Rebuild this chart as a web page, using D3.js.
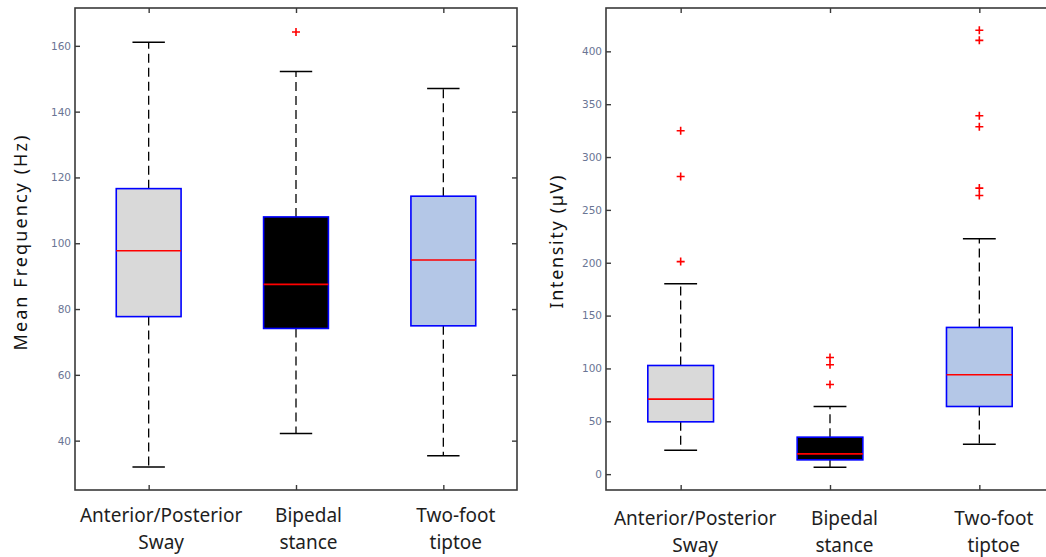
<!DOCTYPE html>
<html>
<head>
<meta charset="utf-8">
<script src="https://cdn.jsdelivr.net/npm/d3@7"></script>
<style>
  html, body { margin: 0; padding: 0; background: #fff; }
  svg { display: block; }
</style>
</head>
<body>
<svg id="chart" width="1046" height="557"></svg>
<script>
// Conditions shown on both panels
const categories = ["Anterior/Posterior Sway", "Bipedal stance", "Two-foot tiptoe"];
const categoryLines = [["Anterior/Posterior", "Sway"], ["Bipedal", "stance"], ["Two-foot", "tiptoe"]];
const boxFills = ["#d9d9d9", "#000000", "#b4c7e7"];

// Mean frequency (Hz): whisker low, Q1, median, Q3, whisker high
const freqLow    = [32.0, 42.2, 35.4];
const freqQ1     = [77.7, 74.1, 74.9];
const freqMedian = [97.7, 87.5, 94.9];
const freqQ3     = [116.6, 108.0, 114.3];
const freqHigh   = [161.1, 152.2, 147.0];
const freqOutliers = [[], [164.2], []];
const freqTicks  = [40, 60, 80, 100, 120, 140, 160];

// Intensity (µV): whisker low, Q1, median, Q3, whisker high
const intLow    = [22.7, 6.6, 28.4];
const intQ1     = [49.5, 13.5, 64.0];
const intMedian = [71.0, 19.2, 94.0];
const intQ3     = [102.8, 35.0, 138.8];
const intHigh   = [180.2, 64.0, 222.8];
const intOutliers = [[201.1, 281.6, 324.9], [84.8, 103.5, 110.4], [263.6, 270.6, 328.6, 339.1, 410.4, 419.9]];
const intTicks  = [0, 50, 100, 150, 200, 250, 300, 350, 400];

const svg = d3.select("#chart");

function drawPanel(cfg) {
  const g = svg.append("g");
  const x = d3.scaleLinear().domain([0.5, 3.5]).range([cfg.left, cfg.right]);
  const y = d3.scaleLinear().domain(cfg.domain).range([cfg.bottom, cfg.top]);
  const idx = categories.map((c, i) => i + 1);
  const boxHalf = 0.22, capHalf = 0.11;

  // frame
  g.append("rect")
    .attr("x", cfg.left).attr("y", cfg.top)
    .attr("width", cfg.right - cfg.left).attr("height", cfg.bottom - cfg.top)
    .attr("fill", "none").attr("stroke", "#3a3a3a").attr("stroke-width", 1.6);

  // inward ticks on all four sides
  const tickLen = 5;
  const axStyle = sel => sel.selectAll("path").remove();
  g.append("g").attr("transform", `translate(${cfg.left},0)`)
    .call(d3.axisLeft(y).tickValues(cfg.ticks).tickSize(-tickLen).tickPadding(4).tickFormat(d3.format("d")))
    .call(axStyle)
    .call(a => a.selectAll("line").attr("stroke", "#3a3a3a").attr("stroke-width", 1.4))
    .call(a => a.selectAll("text").attr("font-family", "DejaVu Sans").attr("font-size", 10.5).attr("fill", "#6a7594"));
  g.append("g").attr("transform", `translate(${cfg.right},0)`)
    .call(d3.axisRight(y).tickValues(cfg.ticks).tickSize(-tickLen).tickFormat(""))
    .call(axStyle)
    .call(a => a.selectAll("line").attr("stroke", "#3a3a3a").attr("stroke-width", 1.4));
  g.append("g").attr("transform", `translate(0,${cfg.top})`)
    .call(d3.axisTop(x).tickValues(idx).tickSize(-tickLen).tickFormat(""))
    .call(axStyle)
    .call(a => a.selectAll("line").attr("stroke", "#3a3a3a").attr("stroke-width", 1.4));
  g.append("g").attr("transform", `translate(0,${cfg.bottom})`)
    .call(d3.axisBottom(x).tickValues(idx).tickSize(-tickLen).tickFormat(""))
    .call(axStyle)
    .call(a => a.selectAll("line").attr("stroke", "#3a3a3a").attr("stroke-width", 1.4));

  const data = categories.map((c, i) => ({
    pos: i + 1, low: cfg.low[i], q1: cfg.q1[i], med: cfg.median[i], q3: cfg.q3[i], high: cfg.high[i],
    out: cfg.outliers[i], fill: boxFills[i]
  }));

  const items = g.selectAll("g.box").data(data).join("g").attr("class", "box");

  // dashed whiskers
  items.append("line")
    .attr("x1", d => x(d.pos)).attr("x2", d => x(d.pos))
    .attr("y1", d => y(d.q3)).attr("y2", d => y(d.high))
    .attr("stroke", "#000").attr("stroke-width", 1.3).attr("stroke-dasharray", "9,5");
  items.append("line")
    .attr("x1", d => x(d.pos)).attr("x2", d => x(d.pos))
    .attr("y1", d => y(d.q1)).attr("y2", d => y(d.low))
    .attr("stroke", "#000").attr("stroke-width", 1.3).attr("stroke-dasharray", "9,5");
  // whisker caps
  items.append("line")
    .attr("x1", d => x(d.pos - capHalf)).attr("x2", d => x(d.pos + capHalf))
    .attr("y1", d => y(d.high)).attr("y2", d => y(d.high))
    .attr("stroke", "#000").attr("stroke-width", 1.5);
  items.append("line")
    .attr("x1", d => x(d.pos - capHalf)).attr("x2", d => x(d.pos + capHalf))
    .attr("y1", d => y(d.low)).attr("y2", d => y(d.low))
    .attr("stroke", "#000").attr("stroke-width", 1.5);
  // box
  items.append("rect")
    .attr("x", d => x(d.pos - boxHalf)).attr("width", d => x(d.pos + boxHalf) - x(d.pos - boxHalf))
    .attr("y", d => y(d.q3)).attr("height", d => y(d.q1) - y(d.q3))
    .attr("fill", d => d.fill).attr("stroke", "#0000ff").attr("stroke-width", 1.6);
  // median
  items.append("line")
    .attr("x1", d => x(d.pos - boxHalf)).attr("x2", d => x(d.pos + boxHalf))
    .attr("y1", d => y(d.med)).attr("y2", d => y(d.med))
    .attr("stroke", "#ff0000").attr("stroke-width", 1.6);
  // outliers as red plus markers
  const m = 4;
  items.each(function (d) {
    d3.select(this).selectAll("path.out").data(d.out).join("path").attr("class", "out")
      .attr("d", v => `M${x(d.pos) - m},${y(v)}H${x(d.pos) + m}M${x(d.pos)},${y(v) - m}V${y(v) + m}`)
      .attr("stroke", "#ff0000").attr("stroke-width", 1.6).attr("fill", "none");
  });

  // category labels
  categoryLines.forEach((lines, i) => {
    const t = g.append("text")
      .attr("font-family", "Noto Sans").attr("font-size", 19).attr("fill", "#1e1e1e")
      .attr("text-anchor", "middle");
    lines.forEach((ln, k) => {
      t.append("tspan").attr("x", x(i + 1) + cfg.labelShift).attr("y", cfg.labelY + k * 26.5).text(ln);
    });
  });

  // y-axis title
  g.append("text")
    .attr("transform", `translate(${cfg.titleX},${cfg.titleY}) rotate(-90)`)
    .attr("font-family", "Noto Sans").attr("font-size", 18).attr("fill", "#111")
    .attr("text-anchor", "middle").attr("dominant-baseline", "central")
    .attr("textLength", cfg.titleLen).attr("lengthAdjust", "spacing")
    .text(cfg.title);
}

drawPanel({
  left: 75, right: 517, top: 8, bottom: 490, domain: [25, 171.5], ticks: freqTicks,
  low: freqLow, q1: freqQ1, median: freqMedian, q3: freqQ3, high: freqHigh, outliers: freqOutliers,
  labelShift: 12.5, labelY: 522, title: "Mean Frequency (Hz)", titleX: 20, titleY: 243, titleLen: 215
});

drawPanel({
  left: 606, right: 1054, top: 8, bottom: 490, domain: [-15, 441], ticks: intTicks,
  low: intLow, q1: intQ1, median: intMedian, q3: intQ3, high: intHigh, outliers: intOutliers,
  labelShift: 14.5, labelY: 525, title: "Intensity (µV)", titleX: 556, titleY: 242, titleLen: 133
});
</script>
</body>
</html>
